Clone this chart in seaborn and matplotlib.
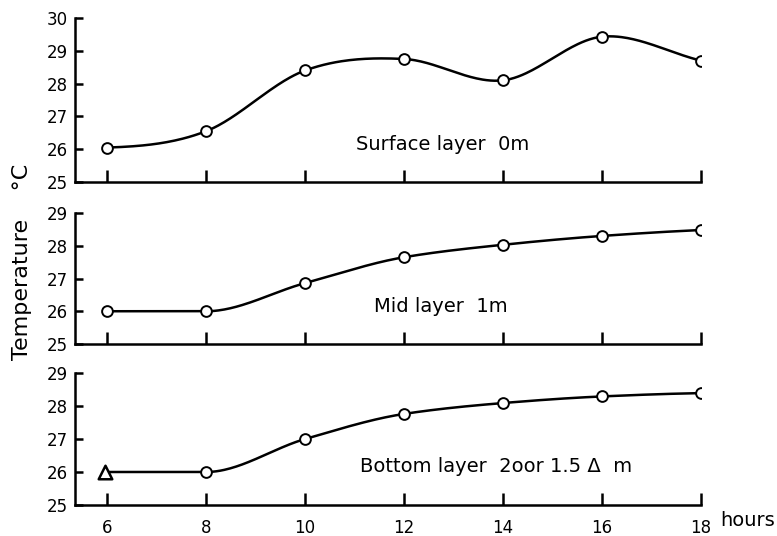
import numpy as np
import pandas as pd
import matplotlib
matplotlib.use("Agg")
import matplotlib.pyplot as plt
import seaborn as sns

hours = [6, 8, 10, 12, 14, 16, 18]
surface = [26.05, 26.55, 28.4, 28.75, 28.1, 29.43, 28.7]
mid = [26.0, 26.0, 26.86, 27.65, 28.03, 28.3, 28.48]
bottom = [26.0, 26.0, 27.0, 27.76, 28.09, 28.29, 28.39]
labels = ["Surface layer  0m", "Mid layer  1m", "Bottom layer  2oor 1.5 \u0394  m"]
ylims = [(25, 30), (25, 29), (25, 29)]

sns.set_theme(style="white")
plt.rcParams['font.family'] = ['DejaVu Sans']


def hermite(x, y, m, n=300):
    x = np.asarray(x, float); y = np.asarray(y, float); h = np.diff(x); k = len(x)
    xs = np.linspace(x[0], x[-1], n); ys = np.empty_like(xs)
    for j, xv in enumerate(xs):
        i = min(np.searchsorted(x, xv, side='right') - 1, k - 2)
        t = (xv - x[i]) / h[i]
        h00 = 2 * t**3 - 3 * t**2 + 1; h10 = t**3 - 2 * t**2 + t
        h01 = -2 * t**3 + 3 * t**2; h11 = t**3 - t**2
        ys[j] = h00 * y[i] + h10 * h[i] * m[i] + h01 * y[i + 1] + h11 * h[i] * m[i + 1]
    return xs, ys


def pchip_slopes(x, y):
    x = np.asarray(x, float); y = np.asarray(y, float)
    h = np.diff(x); d = np.diff(y) / h; k = len(x); m = np.zeros(k)
    for i in range(1, k - 1):
        if d[i - 1] * d[i] > 0:
            w1 = 2 * h[i] + h[i - 1]; w2 = h[i] + 2 * h[i - 1]
            m[i] = (w1 + w2) / (w1 / d[i - 1] + w2 / d[i])
    m[0] = ((2 * h[0] + h[1]) * d[0] - h[0] * d[1]) / (h[0] + h[1])
    if np.sign(m[0]) != np.sign(d[0]):
        m[0] = 0
    m[-1] = ((2 * h[-1] + h[-2]) * d[-1] - h[-1] * d[-2]) / (h[-1] + h[-2])
    if np.sign(m[-1]) != np.sign(d[-1]):
        m[-1] = 0
    return m


def cardinal_slopes(x, y):
    x = np.asarray(x, float); y = np.asarray(y, float); k = len(x); m = np.zeros(k)
    for i in range(1, k - 1):
        m[i] = (y[i + 1] - y[i - 1]) / (x[i + 1] - x[i - 1])
    m[0] = 0.05
    m[-1] = (y[-1] - y[-2]) / (x[-1] - x[-2])
    return m


fig = plt.figure(figsize=(7.77, 5.36), dpi=100)
left, width = 75 / 777, (701 - 75) / 777
boxes = [(18, 182), (213, 344), (373, 505)]
series = [surface, mid, bottom]
text_pos = [(443, 145), (441, 307), (496, 467)]

for idx, ((top, bot), vals) in enumerate(zip(boxes, series)):
    ax = fig.add_axes([left, 1 - bot / 536, width, (bot - top) / 536])
    slopes = cardinal_slopes(hours, vals) if idx == 0 else pchip_slopes(hours, vals)
    xs, ys = hermite(hours, vals, slopes)
    sns.lineplot(x=xs, y=ys, ax=ax, color="black", lw=1.8)
    df = pd.DataFrame({"h": hours, "t": vals})
    if idx == 2:
        sns.scatterplot(data=df.iloc[1:], x="h", y="t", ax=ax, marker="o", s=60,
                        facecolor="white", edgecolor="black", linewidth=1.4, zorder=5)
        ax.scatter([hours[0] - 0.05], [vals[0]], marker="^", s=95, facecolor="white",
                   edgecolor="black", linewidth=1.8, zorder=6)
    else:
        sns.scatterplot(data=df, x="h", y="t", ax=ax, marker="o", s=60,
                        facecolor="white", edgecolor="black", linewidth=1.4, zorder=5)
    ax.set_xlim(5.35, 18)
    ax.set_ylim(*ylims[idx])
    ax.set_yticks(range(ylims[idx][0], ylims[idx][1] + 1))
    ax.set_xticks(hours)
    ax.set_xlabel(""); ax.set_ylabel("")
    for s in ["top", "right"]:
        ax.spines[s].set_visible(False)
    for s in ["left", "bottom"]:
        ax.spines[s].set_color("black"); ax.spines[s].set_linewidth(1.8)
    ax.tick_params(axis="y", direction="in", length=6, width=1.8, labelsize=12, pad=5,
                   left=True, colors="black")
    ax.tick_params(axis="x", direction="in", length=9, width=1.8, labelsize=12, pad=10,
                   bottom=True, colors="black")
    if idx < 2:
        ax.set_xticklabels([])
    ax.patch.set_alpha(0)
    fig.text(text_pos[idx][0] / 777, 1 - text_pos[idx][1] / 536, labels[idx],
             ha="center", va="center", fontsize=14, color="black")

fig.text(22 / 777, 1 - 262 / 536, "Temperature    \u00b0C", rotation=90, ha="center",
         va="center", fontsize=16, color="black")
fig.text(748 / 777, 1 - 520 / 536, "hours", ha="center", va="center", fontsize=14,
         color="black")
fig.savefig("out.png", dpi=100)
